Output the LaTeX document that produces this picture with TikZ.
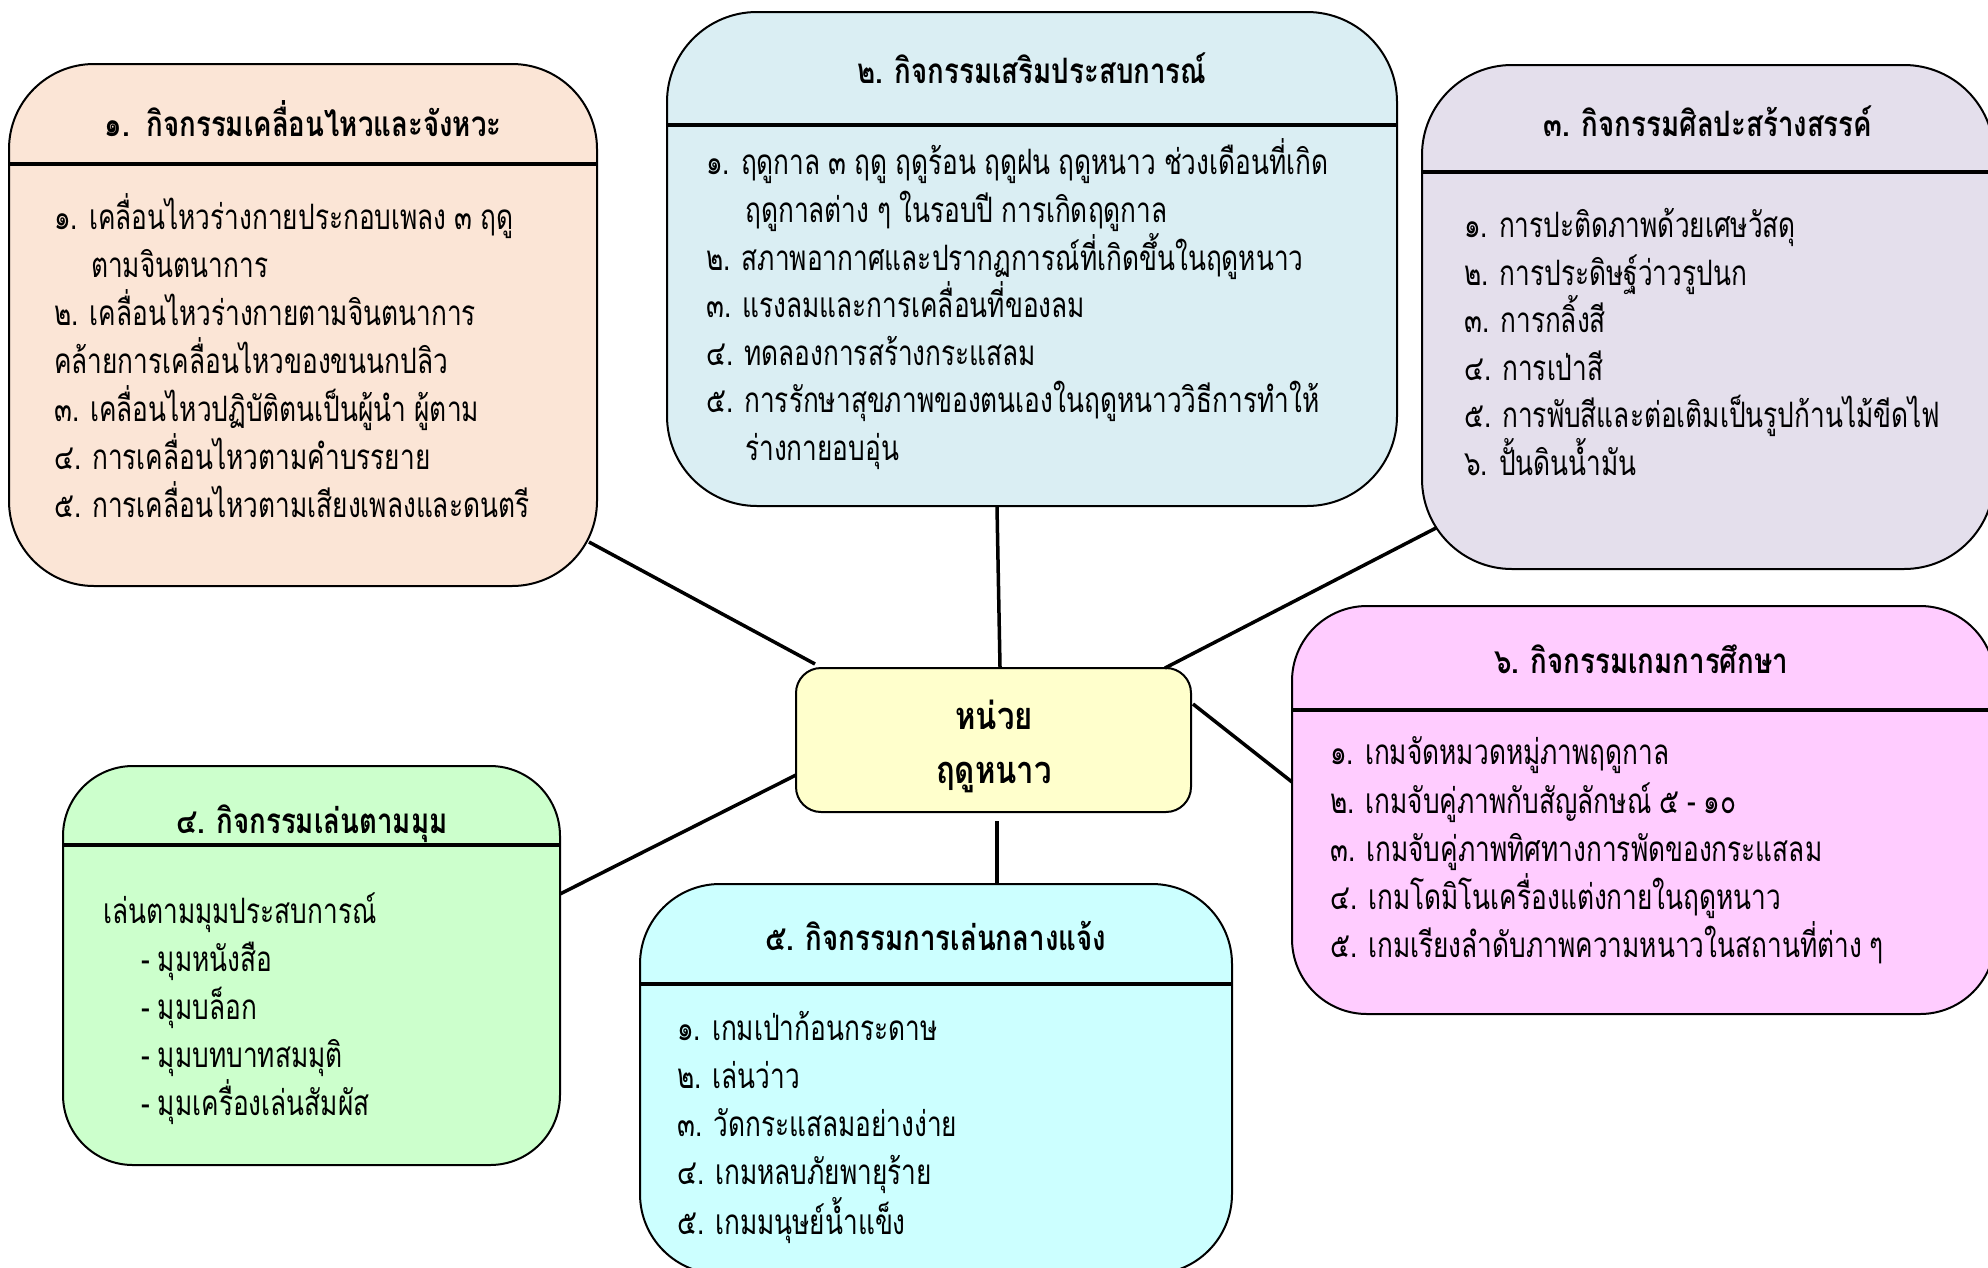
\documentclass[tikz,border=0pt]{standalone}
\usepackage{fontspec}
\newfontfamily\thai[Script=Thai,FakeStretch=0.75,WordSpace=0.9]{Loma}
\newfontfamily\thait[Script=Thai,FakeStretch=0.79,WordSpace=0.9]{Loma}
\newfontfamily\thaic[Script=Thai,FakeStretch=0.82]{Loma}
\usetikzlibrary{calc}
\definecolor{cpeach}{HTML}{FBE5D6}
\definecolor{cblue}{HTML}{DAEEF3}
\definecolor{clav}{HTML}{E4DFEC}
\definecolor{cgreen}{HTML}{CCFFCC}
\definecolor{ccyan}{HTML}{CCFFFF}
\definecolor{cpink}{HTML}{FFCCFF}
\definecolor{cyel}{HTML}{FFFFCC}
\newcommand\itemfont{\thai\fontsize{35}{40}\selectfont}
\newcommand\titlefont{\thait\bfseries\fontsize{35}{40}\selectfont}
\newcommand\ctrfont{\thaic\bfseries\fontsize{38}{44}\selectfont}
\begin{document}
\begin{tikzpicture}[x=1pt,y=-1pt,
  box/.style={draw=black, line width=2pt, inner sep=0pt, outer sep=0pt, anchor=north west},
  hdr/.style={line width=4pt},
  conn/.style={line width=3.5pt},
  itm/.style={anchor=base west, inner sep=0pt, font=\itemfont},
  ttl/.style={anchor=base, inner sep=0pt, font=\titlefont},
  ctl/.style={anchor=base, inner sep=0pt, font=\ctrfont}]
\useasboundingbox (0,0) rectangle (1988,1267);
\clip (0,0) rectangle (1988,1267);

% boxes
\node[box, fill=cpeach, rounded corners=85pt, minimum width=588pt, minimum height=522pt] (b1) at (9,64) {};
\node[box, fill=cblue, rounded corners=90pt, minimum width=730pt, minimum height=494pt] (b2) at (667,12) {};
\node[box, fill=clav, rounded corners=90pt, minimum width=572pt, minimum height=504pt] (b3) at (1422,65) {};
\node[box, fill=cgreen, rounded corners=70pt, minimum width=497pt, minimum height=399pt] (b4) at (63,766) {};
\node[box, fill=ccyan, rounded corners=80pt, minimum width=592pt, minimum height=390pt] (b5) at (640,884) {};
\node[box, fill=cpink, rounded corners=75pt, minimum width=703pt, minimum height=408pt] (b6) at (1292,606) {};
\node[box, fill=cyel, rounded corners=25pt, minimum width=395pt, minimum height=144pt] (ctr) at (796,668) {};

% header lines
\draw[hdr] ($(b1.north west)+(0,100)$) -- ($(b1.north east)+(0,100)$);
\draw[hdr] ($(b2.north west)+(0,113)$) -- ($(b2.north east)+(0,113)$);
\draw[hdr] ($(b3.north west)+(0,107)$) -- ($(b3.north east)+(0,107)$);
\draw[hdr] ($(b4.north west)+(0,79)$) -- ($(b4.north east)+(0,79)$);
\draw[hdr] ($(b5.north west)+(0,100)$) -- ($(b5.north east)+(0,100)$);
\draw[hdr] ($(b6.north west)+(0,104)$) -- ($(b6.north east)+(0,104)$);

% connectors
\draw[conn] ($(b1.south east)+(-8,-44)$) -- ($(ctr.north west)+(19,-4)$);
\draw[conn] ($(b2.south)+(-35,1)$) -- ($(ctr.north)+(6.5,-1)$);
\draw[conn] ($(b3.south west)+(14,-41)$) -- ($(ctr.north east)+(-26,0)$);
\draw[conn] ($(b4.north east)+(0,128)$) -- ($(ctr.west)+(0,35)$);
\draw[conn] ($(ctr.south)+(3.5,9)$) -- ($(b5.north)+(61,0)$);
\draw[conn] ($(ctr.east)+(2,-36)$) -- ($(b6.west)+(0,-28)$);

% center
\node[ctl] (ct1) at (994,729) {หน่วย};
\node[ctl] (ct2) at (994,783) {ฤดูหนาว};

% box 1
\node[ttl] (t1) at (303,136) {๑.~~กิจกรรมเคลื่อนไหวและจังหวะ};
\node[itm] (b1i1) at (54,229) {๑. เคลื่อนไหวร่างกายประกอบเพลง ๓ ฤดู};
\node[itm] (b1i2) at (91,277) {ตามจินตนาการ};
\node[itm] (b1i3) at (54,325) {๒. เคลื่อนไหวร่างกายตามจินตนาการ};
\node[itm] (b1i4) at (54,373) {คล้ายการเคลื่อนไหวของขนนกปลิว};
\node[itm] (b1i5) at (54,421) {๓. เคลื่อนไหวปฏิบัติตนเป็นผู้นำ ผู้ตาม};
\node[itm] (b1i6) at (54,469) {๔. การเคลื่อนไหวตามคำบรรยาย};
\node[itm] (b1i7) at (54,517) {๕. การเคลื่อนไหวตามเสียงเพลงและดนตรี};

% box 2
\node[ttl] (t2) at (1032,83) {๒. กิจกรรมเสริมประสบการณ์};
\node[itm] (b2i1) at (706,174) {๑. ฤดูกาล ๓ ฤดู ฤดูร้อน ฤดูฝน ฤดูหนาว ช่วงเดือนที่เกิด};
\node[itm] (b2i2) at (745,222) {ฤดูกาลต่าง ๆ ในรอบปี การเกิดฤดูกาล};
\node[itm] (b2i3) at (706,270) {๒. สภาพอากาศและปรากฏการณ์ที่เกิดขึ้นในฤดูหนาว};
\node[itm] (b2i4) at (706,317) {๓. แรงลมและการเคลื่อนที่ของลม};
\node[itm] (b2i5) at (706,365) {๔. ทดลองการสร้างกระแสลม};
\node[itm] (b2i6) at (706,412) {๕. การรักษาสุขภาพของตนเองในฤดูหนาววิธีการทำให้};
\node[itm] (b2i7) at (745,460) {ร่างกายอบอุ่น};

% box 3
\node[ttl] (t3) at (1708,136) {๓. กิจกรรมศิลปะสร้างสรรค์};
\node[itm] (b3i1) at (1464,237) {๑. การปะติดภาพด้วยเศษวัสดุ};
\node[itm] (b3i2) at (1464,285) {๒. การประดิษฐ์ว่าวรูปนก};
\node[itm] (b3i3) at (1464,332) {๓. การกลิ้งสี};
\node[itm] (b3i4) at (1464,380) {๔. การเป่าสี};
\node[itm] (b3i5) at (1464,427) {๕. การพับสีและต่อเติมเป็นรูปก้านไม้ขีดไฟ};
\node[itm] (b3i6) at (1464,475) {๖. ปั้นดินน้ำมัน};

% box 4
\node[ttl] (t4) at (312,833) {๔. กิจกรรมเล่นตามมุม};
\node[itm] (b4i1) at (103,923) {เล่นตามมุมประสบการณ์};
\node[itm] (b4i2) at (141,971) {- มุมหนังสือ};
\node[itm] (b4i3) at (141,1019) {- มุมบล็อก};
\node[itm] (b4i4) at (141,1067) {- มุมบทบาทสมมุติ};
\node[itm] (b4i5) at (141,1115) {- มุมเครื่องเล่นสัมผัส};

% box 5
\node[ttl] (t5) at (936,950) {๕. กิจกรรมการเล่นกลางแจ้ง};
\node[itm] (b5i1) at (677,1040) {๑. เกมเป่าก้อนกระดาษ};
\node[itm] (b5i2) at (677,1088) {๒. เล่นว่าว};
\node[itm] (b5i3) at (677,1136) {๓. วัดกระแสลมอย่างง่าย};
\node[itm] (b5i4) at (677,1184) {๔. เกมหลบภัยพายุร้าย};
\node[itm] (b5i5) at (677,1234) {๕. เกมมนุษย์น้ำแข็ง};

% box 6
\node[ttl] (t6) at (1641,673) {๖. กิจกรรมเกมการศึกษา};
\node[itm] (b6i1) at (1330,764) {๑. เกมจัดหมวดหมู่ภาพฤดูกาล};
\node[itm] (b6i2) at (1330,813) {๒. เกมจับคู่ภาพกับสัญลักษณ์ ๕ - ๑๐};
\node[itm] (b6i3) at (1330,861) {๓. เกมจับคู่ภาพทิศทางการพัดของกระแสลม};
\node[itm] (b6i4) at (1330,909) {๔. เกมโดมิโนเครื่องแต่งกายในฤดูหนาว};
\node[itm] (b6i5) at (1330,957) {๕. เกมเรียงลำดับภาพความหนาวในสถานที่ต่าง ๆ};
\end{tikzpicture}
\end{document}
